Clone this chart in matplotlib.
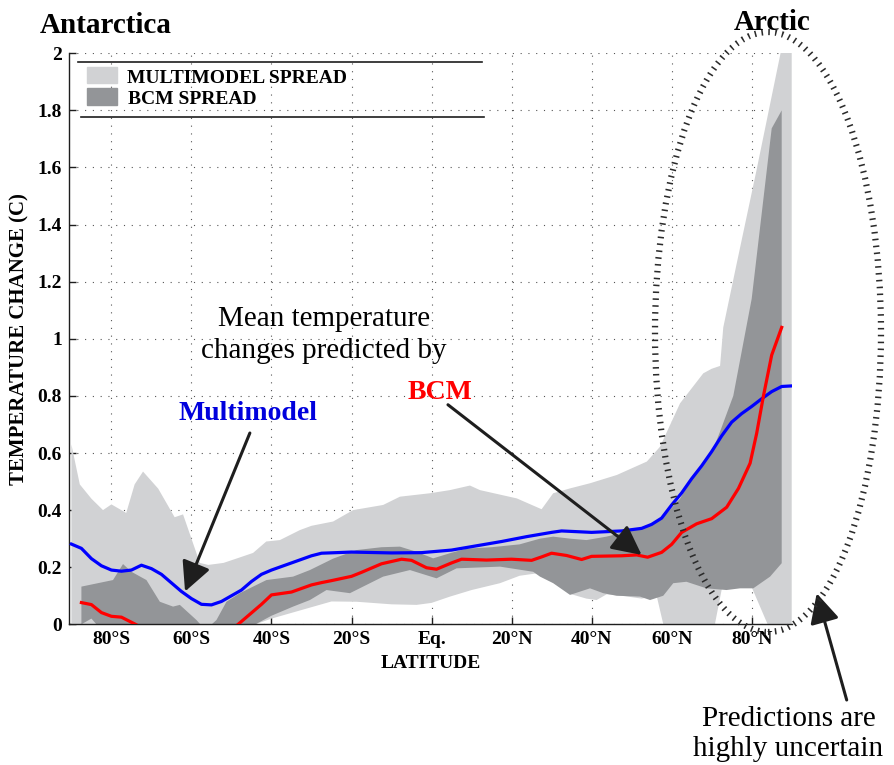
import numpy as np
import matplotlib
matplotlib.use("Agg")
import matplotlib.pyplot as plt
from matplotlib.patches import Ellipse, Rectangle
from matplotlib.lines import Line2D

plt.rcParams['font.family'] = ['Liberation Serif', 'DejaVu Serif']

W, H = 895, 765

# Axis ticks
lat_ticks = [-80, -60, -40, -20, 0, 20, 40, 60, 80]
lat_labels = ['80°S', '60°S', '40°S', '20°S', 'Eq.', '20°N', '40°N', '60°N', '80°N']
temp_ticks = [0, 0.2, 0.4, 0.6, 0.8, 1.0, 1.2, 1.4, 1.6, 1.8, 2.0]
temp_labels = ['0', '0.2', '0.4', '0.6', '0.8', '1', '1.2', '1.4', '1.6', '1.8', '2']

# Multimodel spread (upper / lower envelope)
mm_up_lat = [-90, -87.9, -85, -82.1, -80, -76.3, -74.2, -72.1, -68.3, -64.2, -62.1,
             -57.9, -55.8, -52, -48.8, -44.6, -41.3, -37.9, -32.9, -30, -24.6, -19.6,
             -12.1, -7.9, -0.4, 4.6, 9.6, 12.1, 21.3, 27.5, 30.4, 34.6, 39.6, 46.3,
             53.8, 57.1, 62.1, 67.9, 70, 72.1, 72.9, 76.2, 81.2, 87.5, 90]
mm_up_val = [0.63, 0.49, 0.44, 0.40, 0.42, 0.39, 0.49, 0.535, 0.475, 0.375, 0.385,
             0.215, 0.208, 0.215, 0.23, 0.25, 0.29, 0.295, 0.33, 0.345, 0.36, 0.40,
             0.418, 0.447, 0.459, 0.47, 0.486, 0.47, 0.441, 0.403, 0.459, 0.476, 0.494, 0.523,
             0.57, 0.622, 0.774, 0.879, 0.895, 0.905, 1.04, 1.26, 1.59, 2.02, 2.02]
mm_lo_lat = [-90, -57.5, -54, -50, -44, -40, -35, -30, -25, -18.75, -10, -3.75, 0,
             4.6, 10, 17.1, 22, 27.1, 30, 35, 38.7, 41.25, 43.75, 47.5, 52.5, 56.25,
             58.75, 65, 70.8, 72.9, 76, 80, 84.6, 90]
mm_lo_val = [-0.1, -0.05, 0.0, 0.0, 0.0, 0.02, 0.04, 0.06, 0.08, 0.079, 0.07, 0.068, 0.075,
             0.097, 0.12, 0.144, 0.17, 0.18, 0.15, 0.105, 0.09, 0.085, 0.105, 0.1, 0.09, 0.1,
             -0.05, -0.3, 0.0, 0.15, 0.15, 0.13, -0.02, -0.2]

# BCM spread (upper / lower envelope)
bcm_up_lat = [-87.5, -79.6, -77.1, -75, -71.25, -67.9, -64.6, -62.9, -58.75, -56.5,
              -53.75, -51.25, -47.9, -44.6, -41.25, -34.6, -30.4, -24.6, -18.75, -12.5,
              -7.9, -3.75, 0.4, 4.6, 8.75, 15, 22, 27.1, 30.4, 34.6, 38.7, 43.7, 50.4,
              55.4, 58.8, 62.1, 65, 70, 72.1, 75.4, 80, 85, 87.5]
bcm_up_val = [0.132, 0.155, 0.211, 0.184, 0.155, 0.079, 0.062, 0.068, 0.015, -0.02,
              0.015, 0.079, 0.109, 0.132, 0.155, 0.167, 0.19, 0.23, 0.26, 0.27,
              0.272, 0.254, 0.231, 0.249, 0.265, 0.27, 0.28, 0.30, 0.307, 0.30, 0.295, 0.307, 0.33,
              0.354, 0.389, 0.44, 0.51, 0.60, 0.675, 0.80, 1.14, 1.737, 1.80]
bcm_lo_lat = [-87.5, -85, -82.5, -60, -46, -44, -40, -34.6, -30.4, -26.25, -20.4,
              -12.1, -5.4, 1.25, 6.25, 17.1, 25.4, 27.1, 30.4, 34.6, 39.6, 42.9, 46.25,
              52.1, 54.6, 57.9, 60.4, 63.7, 68.7, 73.7, 77.1, 80.4, 84.6, 87.5]
bcm_lo_val = [0.0, 0.02, -0.02, -0.05, -0.03, 0.0, 0.03, 0.062, 0.085, 0.12, 0.109,
              0.167, 0.19, 0.161, 0.196, 0.202, 0.184, 0.167, 0.144, 0.103, 0.126, 0.109, 0.1,
              0.097, 0.085, 0.1, 0.144, 0.149, 0.126, 0.12, 0.126, 0.126, 0.167, 0.214]

# Multimodel mean
mm_lat = [-90, -87.5, -85, -82.5, -80, -77.5, -75, -72.5, -70, -67.5, -65, -62.5, -60,
          -57.5, -55, -52.5, -50, -47.5, -45, -42.5, -40, -35, -30, -27.5, -20, -10,
          -2.5, 5, 10, 17.5, 23.75, 30, 32.5, 40, 47.5, 52.5, 55, 57.5, 60, 62.5, 65,
          67.5, 70, 72.5, 75, 77.5, 80, 82.5, 85, 87.5, 90]
mm_val = [0.281, 0.266, 0.23, 0.205, 0.19, 0.186, 0.19, 0.207, 0.195, 0.175, 0.145, 0.115, 0.09,
          0.07, 0.068, 0.08, 0.1, 0.12, 0.15, 0.175, 0.19, 0.215, 0.24, 0.249, 0.253, 0.25,
          0.251, 0.26, 0.272, 0.29, 0.307, 0.322, 0.327, 0.322, 0.327, 0.336, 0.35, 0.372, 0.418, 0.46, 0.51,
          0.555, 0.605, 0.66, 0.708, 0.738, 0.763, 0.79, 0.815, 0.833, 0.835]

# BCM mean
bcm_lat = [-87.5, -85, -82.5, -80, -77.5, -74, -70, -60, -52.5, -47.5, -45, -42.5, -40,
           -35, -30, -27.5, -25, -20, -17.5, -12.5, -7.5, -5, -1.25, 1.25, 5, 7.5, 13.75,
           20, 25, 27.5, 30, 33.75, 37.5, 40, 47.5, 51.25, 54, 57.5, 60, 62.5, 66.25, 70,
           73.75, 76.7, 79.6, 81.25, 82.9, 85, 87.5]
bcm_val = [0.076, 0.069, 0.041, 0.028, 0.025, 0.0, -0.03, -0.06, -0.05, 0.01, 0.04, 0.07, 0.103,
           0.113, 0.138, 0.146, 0.153, 0.168, 0.182, 0.212, 0.228, 0.224, 0.198, 0.193, 0.215, 0.228, 0.225,
           0.228, 0.224, 0.236, 0.249, 0.241, 0.227, 0.238, 0.240, 0.243, 0.235, 0.252, 0.28, 0.322, 0.352, 0.37,
           0.41, 0.476, 0.564, 0.669, 0.797, 0.943, 1.04]

LIGHT = '#D1D2D4'
DARK = '#939598'
INK = '#1E1E1E'


def fxy(x, y):
    """Pixel position (origin top-left) to figure fraction."""
    return (x / W, 1 - y / H)


fig = plt.figure(figsize=(W / 100, H / 100), dpi=100)
ax = fig.add_axes([69 / W, 1 - 624.3 / H, (791.7 - 69) / W, (624.3 - 53.3) / H])

ax.fill(np.concatenate([mm_up_lat, mm_lo_lat[::-1]]),
        np.concatenate([mm_up_val, mm_lo_val[::-1]]), color=LIGHT, lw=0, zorder=1)
ax.fill(np.concatenate([bcm_up_lat, bcm_lo_lat[::-1]]),
        np.concatenate([bcm_up_val, bcm_lo_val[::-1]]), color=DARK, lw=0, zorder=1.1)
ax.plot(mm_lat, mm_val, color='#0000FF', lw=2.3, zorder=3)
ax.plot(bcm_lat, bcm_val, color='#FF0000', lw=2.3, zorder=3)

ax.set_xlim(-90.6, 90)
ax.set_ylim(0, 2)
ax.set_xticks(lat_ticks)
ax.set_xticklabels(lat_labels)
ax.set_yticks(temp_ticks)
ax.set_yticklabels(temp_labels)
for lab in ax.get_xticklabels() + ax.get_yticklabels():
    lab.set_fontweight('bold')
    lab.set_fontsize(14)
ax.tick_params(direction='in', length=5, width=1, color=INK, pad=5)
ax.spines['top'].set_visible(False)
ax.spines['right'].set_visible(False)
for s in ('left', 'bottom'):
    ax.spines[s].set_linewidth(1.0)
    ax.spines[s].set_color(INK)
ax.set_axisbelow(True)
ax.grid(True, color='#555555', lw=0.8, linestyle=(0, (1, 6)))

ax.set_xlabel('LATITUDE', fontsize=14, fontweight='bold', labelpad=5)
ax.set_ylabel('TEMPERATURE CHANGE (C)', fontsize=15, fontweight='bold')
ax.yaxis.set_label_coords(-(69 - 29) / (791.7 - 69), 0.5)

# Legend with rules above and below
fig.add_artist(Line2D([78 / W, 482 / W], [fxy(0, 61.7)[1]] * 2, color=INK, lw=1.2))
fig.add_artist(Line2D([81 / W, 484 / W], [fxy(0, 116.7)[1]] * 2, color=INK, lw=1.2))
fig.add_artist(Rectangle(fxy(87.3, 82.7), 29.4 / W, 16 / H, color=LIGHT, transform=fig.transFigure))
fig.add_artist(Rectangle(fxy(87.3, 105), 29.4 / W, 16.7 / H, color=DARK, transform=fig.transFigure))
fig.text(*fxy(126.7, 82.7), 'MULTIMODEL SPREAD', fontsize=14, fontweight='bold', va='baseline', ha='left')
fig.text(*fxy(128.3, 104), 'BCM SPREAD', fontsize=14, fontweight='bold', va='baseline', ha='left')

# Region titles
fig.text(*fxy(40, 32.7), 'Antarctica', fontsize=21, fontweight='bold', va='baseline', ha='left')
fig.text(*fxy(772.5, 30), 'Arctic', fontsize=21, fontweight='bold', va='baseline', ha='center')

# Annotations
fig.text(*fxy(324, 335), 'Mean temperature\nchanges predicted by', fontsize=21,
         ha='center', va='center', linespacing=1.3)
fig.text(*fxy(248.3, 414), 'Multimodel', fontsize=20, fontweight='bold', color='#0000DD',
         ha='center', va='center')
fig.text(*fxy(440, 393), 'BCM', fontsize=20, fontweight='bold', color='#FF0000',
         ha='center', va='center')
fig.text(*fxy(788.5, 734), 'Predictions are\nhighly uncertain', fontsize=21,
         ha='center', va='center', linespacing=1.25)

arrow = dict(arrowstyle='-|>,head_length=0.9,head_width=0.45', lw=2.2, color=INK,
             shrinkA=0, shrinkB=0, mutation_scale=20)
ax.annotate('', xy=(-61.6, 0.115), xytext=(-45.4, 0.67), arrowprops=arrow)
ax.annotate('', xy=(52.5, 0.243), xytext=(4.1, 0.769), arrowprops=arrow)
ax.annotate('', xy=fxy(816.7, 593.3), xycoords='figure fraction',
            xytext=fxy(846.7, 700), textcoords='figure fraction',
            arrowprops=arrow, annotation_clip=False)

# Uncertainty ring around the Arctic
fig.add_artist(Ellipse(fxy(768, 332), 226 / W, 600 / H, transform=fig.transFigure,
                       fill=False, ec='#2A2A2A', lw=4.5, linestyle=(0, (0.25, 0.85))))

fig.savefig('out.png', dpi=100)
